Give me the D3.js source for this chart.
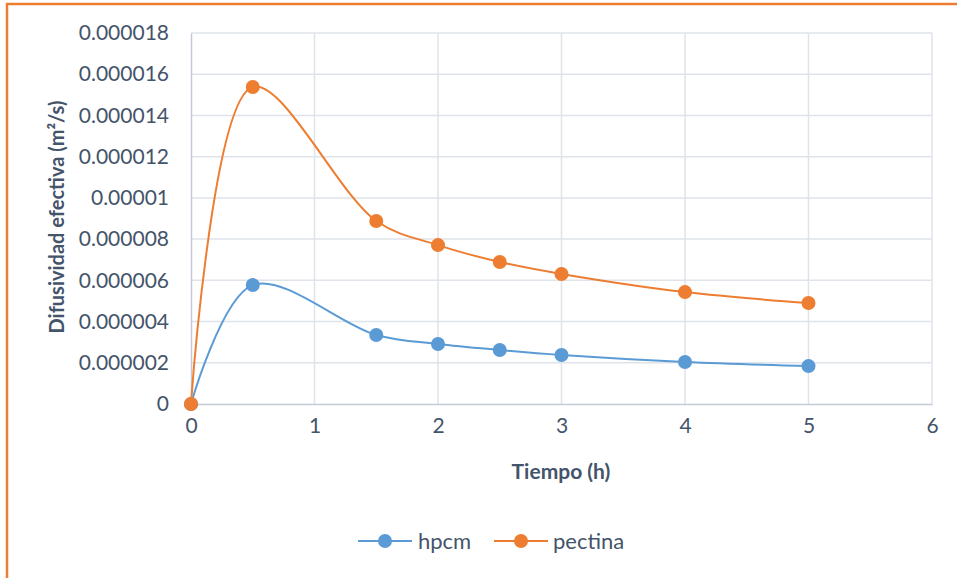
<!DOCTYPE html>
<html>
<head>
<meta charset="utf-8">
<script src="https://cdn.jsdelivr.net/npm/d3@7"></script>
<style>
  html, body { margin: 0; padding: 0; background: #fff; }
  svg { display: block; }
</style>
</head>
<body>
<svg id="chart" width="957" height="578"></svg>
<script>
// Effective diffusivity over drying time for two coatings
const tiempo = [0, 0.5, 1.5, 2, 2.5, 3, 4, 5];
const hpcm = [0, 0.00000577, 0.00000335, 0.00000291, 0.00000262, 0.00000238, 0.00000204, 0.00000184];
const pectina = [0, 0.00001538, 0.00000888, 0.00000771, 0.00000689, 0.00000631, 0.00000543, 0.00000490];
const xTicks = [0, 1, 2, 3, 4, 5, 6];
const yTicks = [0, 0.000002, 0.000004, 0.000006, 0.000008, 0.00001, 0.000012, 0.000014, 0.000016, 0.000018];
const yTickLabels = ["0", "0.000002", "0.000004", "0.000006", "0.000008", "0.00001", "0.000012", "0.000014", "0.000016", "0.000018"];
const seriesNames = ["hpcm", "pectina"];
const seriesColors = ["#5b9bd5", "#ed7d31"];

const svg = d3.select("#chart");
const textColor = "#44546a";
const font = "Lato, 'Open Sans', sans-serif";

// chart frame
svg.append("rect")
  .attr("x", 7).attr("y", 4)
  .attr("width", 970).attr("height", 600)
  .attr("fill", "#fff")
  .attr("stroke", "#ed7d31").attr("stroke-width", 2.5);

const plot = { left: 191, right: 932, top: 33, bottom: 404 };
const x = d3.scaleLinear().domain([0, 6]).range([plot.left, plot.right]);
const y = d3.scaleLinear().domain([0, 0.000018]).range([plot.bottom, plot.top]);

// gridlines
const grid = svg.append("g");
grid.selectAll(".gy").data(yTicks.slice(1)).join("line")
  .attr("x1", plot.left).attr("x2", plot.right)
  .attr("y1", d => y(d)).attr("y2", d => y(d))
  .attr("stroke", "#dfe3ea").attr("stroke-width", 1.5);
grid.selectAll(".gx").data(xTicks.slice(1)).join("line")
  .attr("x1", d => x(d)).attr("x2", d => x(d))
  .attr("y1", plot.top).attr("y2", plot.bottom)
  .attr("stroke", "#dfe3ea").attr("stroke-width", 1.5);

// axes
const xAxis = svg.append("g")
  .attr("transform", `translate(0,${plot.bottom})`)
  .call(d3.axisBottom(x).tickValues(xTicks).tickSize(0).tickPadding(14).tickFormat(d3.format("d")));
const yAxis = svg.append("g")
  .attr("transform", `translate(${plot.left},0)`)
  .call(d3.axisLeft(y).tickValues(yTicks).tickSize(0).tickPadding(22)
    .tickFormat((d, i) => yTickLabels[i]));
[xAxis, yAxis].forEach(a => {
  a.select(".domain").attr("stroke", "#c3cad5").attr("stroke-width", 1.5);
  a.selectAll("text").attr("fill", textColor).attr("font-family", font).attr("font-size", 21);
});
xAxis.selectAll("text").attr("dy", "0.71em");

// axis titles
svg.append("text")
  .attr("x", 561).attr("y", 479)
  .attr("text-anchor", "middle")
  .attr("font-family", font).attr("font-weight", "bold").attr("font-size", 21)
  .attr("fill", textColor)
  .text("Tiempo (h)");
svg.append("text")
  .attr("transform", "translate(64,217) rotate(-90)")
  .attr("text-anchor", "middle")
  .attr("font-family", font).attr("font-weight", "bold").attr("font-size", 20)
  .attr("fill", textColor)
  .text("Difusividad efectiva (m²/s)");

// series
const seriesData = [hpcm, pectina];
const line = d3.line()
  .x(d => x(d[0])).y(d => y(d[1]))
  .curve(d3.curveCatmullRom.alpha(0.5));

seriesData.forEach((vals, si) => {
  const pts = tiempo.map((t, i) => [t, vals[i]]);
  svg.append("path")
    .datum(pts)
    .attr("d", line)
    .attr("fill", "none")
    .attr("stroke", seriesColors[si])
    .attr("stroke-width", 2);
  svg.append("g").selectAll("circle").data(pts).join("circle")
    .attr("cx", d => x(d[0])).attr("cy", d => y(d[1]))
    .attr("r", 7)
    .attr("fill", seriesColors[si]);
});

// legend
const legendItems = [{ x: 358, tx: 418 }, { x: 494, tx: 553 }];
legendItems.forEach((it, i) => {
  const g = svg.append("g");
  g.append("line")
    .attr("x1", it.x).attr("x2", it.x + 54)
    .attr("y1", 541).attr("y2", 541)
    .attr("stroke", seriesColors[i]).attr("stroke-width", 2);
  g.append("circle")
    .attr("cx", it.x + 27).attr("cy", 541).attr("r", 7)
    .attr("fill", seriesColors[i]);
  g.append("text")
    .attr("x", it.tx).attr("y", 541).attr("dy", "0.35em")
    .attr("font-family", font).attr("font-size", 22)
    .attr("fill", textColor)
    .text(seriesNames[i]);
});
</script>
</body>
</html>
